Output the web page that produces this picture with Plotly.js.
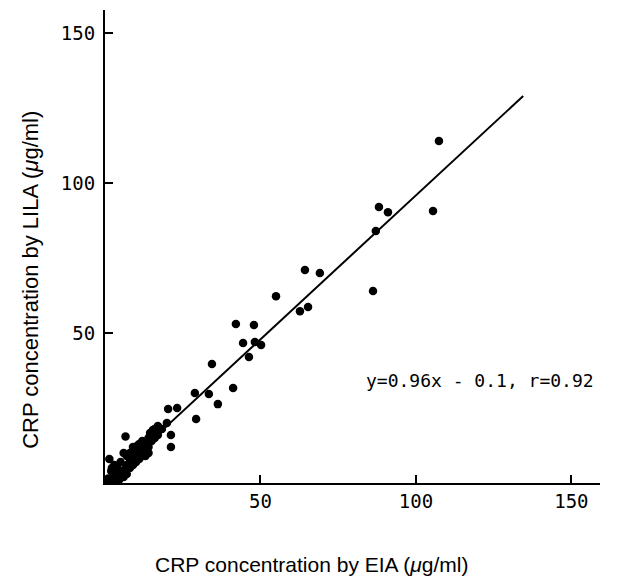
<!DOCTYPE html>
<html>
<head>
<meta charset="utf-8">
<script src="https://cdn.plot.ly/plotly-3.0.1.min.js"></script>
<style>html,body{margin:0;padding:0;background:#fff;}#chart{width:628px;height:579px;}</style>
</head>
<body>
<div id="chart"></div>
<script>
// CRP concentration by EIA (x) vs by LILA (y), µg/ml
const eiaValues = [
  107.4, 88.1, 91.0, 87.1, 105.5, 86.2,
  64.3, 69.1, 55.0, 62.7, 65.3,
  42.1, 47.9, 44.4, 48.2, 50.2, 46.3, 34.4, 41.2, 28.9, 33.4, 36.3,
  20.3, 23.2, 29.3, 6.6, 21.2, 21.2, 19.9, 18.3, 15.4, 14.5, 2.2, 1.4,
  1, 2, 3, 4, 5, 5, 6, 7, 7, 8, 8, 9, 9, 10, 10, 11, 11, 12, 12, 13, 13, 14, 14,
  15, 16, 16, 17, 18, 3, 2, 4, 6, 8, 10, 12, 13, 14, 17, 9, 7, 11, 3, 0.5, 4.5, 6, 10.5
];
const lilaValues = [
  114, 92, 90.3, 84, 90.7, 64,
  71, 70, 62.3, 57.3, 58.7,
  53, 52.7, 46.7, 47, 46, 42, 39.7, 31.7, 30, 29.7, 26.3,
  24.7, 25, 21.3, 15.5, 16, 12, 20, 18, 17.7, 16.7, 5, 8,
  1.5, 1, 3, 5, 2, 7, 4, 6, 9, 7, 10, 8, 6, 9, 11, 10, 8, 12, 9, 11, 13, 12, 10,
  14, 15, 18, 16, 18, 6, 4, 3, 10, 5, 7, 14, 9, 15, 19, 12, 3, 13, 1, 0.5, 1, 2, 12.5
];
const slope = 0.96, intercept = -0.1;
const fitX = [0.5, 134.5];
const fitY = fitX.map(x => slope * x + intercept);
const xTicks = [50, 100, 150];
const yTicks = [50, 100, 150];

const traces = [
  {x: fitX, y: fitY, mode: 'lines', line: {color: '#000', width: 2}, hoverinfo: 'skip'},
  {x: eiaValues, y: lilaValues, mode: 'markers', marker: {color: '#000', size: 8.5}}
];

const tickFont = {family: 'DejaVu Sans Mono', size: 19, color: '#000'};
const layout = {
  width: 628, height: 579,
  margin: {l: 105, r: 28, t: 10, b: 96},
  paper_bgcolor: '#fff', plot_bgcolor: '#fff',
  showlegend: false,
  xaxis: {
    range: [0, 159.2], showline: true, linecolor: '#000', linewidth: 2,
    ticks: 'inside', ticklen: 8, tickwidth: 2, tickcolor: '#000',
    tickvals: xTicks, showgrid: false, zeroline: false, tickfont: tickFont,
    ticklabelstandoff: 0
  },
  yaxis: {
    range: [0, 157.7], showline: true, linecolor: '#000', linewidth: 2,
    ticks: 'inside', ticklen: 8, tickwidth: 2, tickcolor: '#000',
    tickvals: yTicks, showgrid: false, zeroline: false, tickfont: tickFont,
    ticklabelstandoff: 4
  },
  annotations: [
    {text: 'CRP concentration by EIA (<i>μ</i>g/ml)', xref: 'paper', yref: 'paper',
     x: 0.418, y: -0.173, showarrow: false, xanchor: 'center', yanchor: 'middle',
     font: {family: 'Liberation Sans', size: 21, color: '#000'}},
    {text: 'CRP concentration by LILA (<i>μ</i>g/ml)', xref: 'paper', yref: 'paper',
     x: -0.152, y: 0.429, showarrow: false, xanchor: 'center', yanchor: 'middle', textangle: -90,
     font: {family: 'Liberation Sans', size: 22, color: '#000'}},
    {text: 'y=0.96x - 0.1, r=0.92', xref: 'paper', yref: 'paper',
     x: 0.758, y: 0.216, showarrow: false, xanchor: 'center', yanchor: 'middle',
     font: {family: 'DejaVu Sans Mono', size: 18, color: '#000'}}
  ]
};
Plotly.newPlot('chart', traces, layout, {staticPlot: true});
</script>
</body>
</html>
